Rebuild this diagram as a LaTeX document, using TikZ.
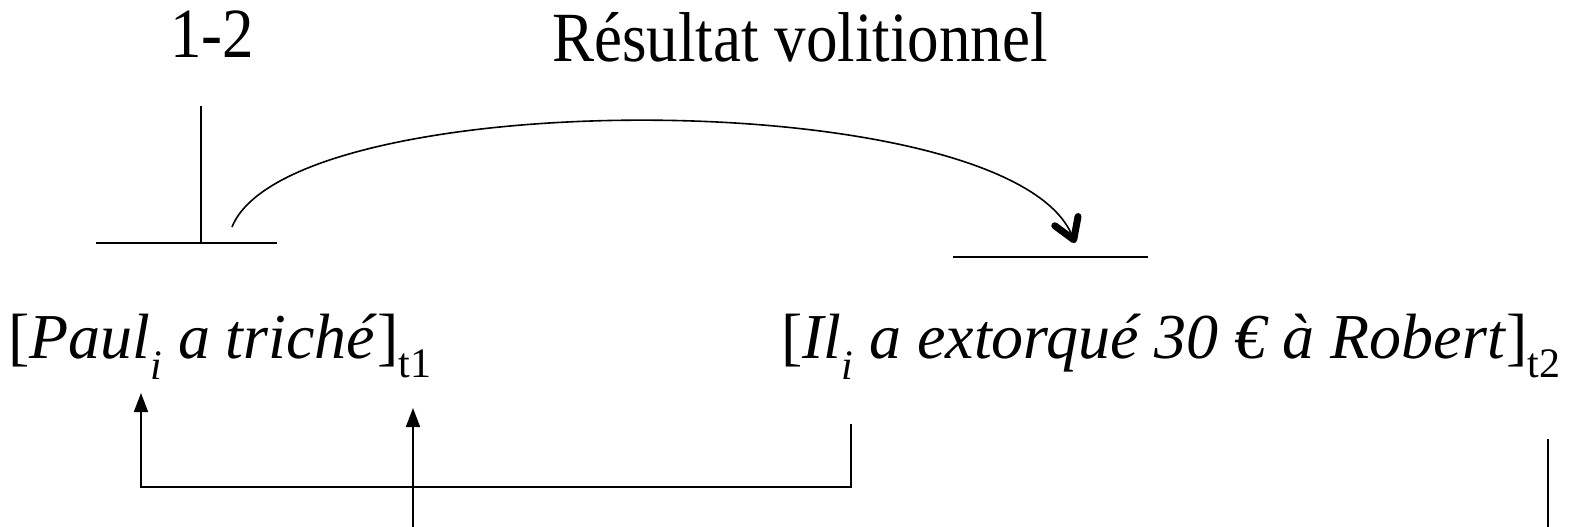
\documentclass[tikz,border=0pt]{standalone}
\usepackage{fontspec}
\setmainfont{Liberation Serif}[ItalicFont={Liberation Serif Italic}]
\usetikzlibrary{arrows.meta,calc}
\tikzset{
  every picture/.style = {
    x=1pt, y=-1pt,
    font=\rmfamily\fontsize{64}{77}\selectfont
  }
}
\tikzset{
  rule/.style={line width=1.7pt},
  tick/.style={line width=1.2pt},
  ptr/.style={line width=1.7pt, -{Triangle[length=19pt,width=14pt]}},
  jump/.style={line width=1.6pt, -{Straight Barb[length=20pt,width=25pt,line width'=7pt,round]}},
  clause/.style={anchor=base west, inner sep=0pt},
  lbl/.style={anchor=base, inner sep=0pt, font=\rmfamily\fontsize{63}{75}\selectfont}
}
\newcommand{\subi}{\raisebox{-0.34em}{\fontsize{42}{42}\selectfont\itshape i}}
\newcommand{\subt}[1]{\raisebox{-0.3em}{\fontsize{42}{42}\selectfont #1}}
\newcommand{\tall}[1]{\scalebox{1}[1.12]{#1}}

\begin{document}
\begin{tikzpicture}
  \useasboundingbox (0,0) rectangle (1577,527);
  % titles
  \node[lbl] (num) at (212,58) {\tall{1-2}};
  \node[lbl] (res) at (800,62) {\tall{Résultat volitionnel}};
  % clauses
  \node[clause] (paul) at (8,358) {[\textit{Paul}\subi\ \textit{a triché}]\subt{t1}};
  \node[clause] (il) at (781,358) {[\textit{Il}\subi\ \textit{a extorqué 30 € à Robert}]\subt{t2}};
  % time axis marks
  \coordinate (tickT) at (201,106);
  \coordinate (tickB) at (201,243);
  \coordinate (lineAL) at (96,243);
  \coordinate (lineAR) at (277,243);
  \coordinate (lineBL) at (953,257);
  \coordinate (lineBR) at (1148,257);
  \draw[tick] (tickT) -- (tickB);
  \draw[rule] (lineAL) -- (lineAR);
  \draw[rule] (lineBL) -- (lineBR);
  % result arc
  \coordinate (arcS) at (232,227);
  \coordinate (arcE) at (1075,243);
  \draw[jump] (arcS) .. controls (290,83) and (1012,83) .. (arcE);
  % coreference links
  \coordinate (paulTip) at (141,393);
  \coordinate (cornL) at (141,487);
  \coordinate (cornR) at (851,487);
  \coordinate (ilFoot) at (851,424);
  \coordinate (tTip) at (413,408);
  \coordinate (tFoot) at (413,527);
  \coordinate (farT) at (1548,439);
  \coordinate (farB) at (1548,527);
  \draw[ptr] (ilFoot) -- (cornR) -- (cornL) -- (paulTip);
  \draw[ptr] (tFoot) -- (tTip);
  \draw[rule] (farT) -- (farB);
\end{tikzpicture}
\end{document}
